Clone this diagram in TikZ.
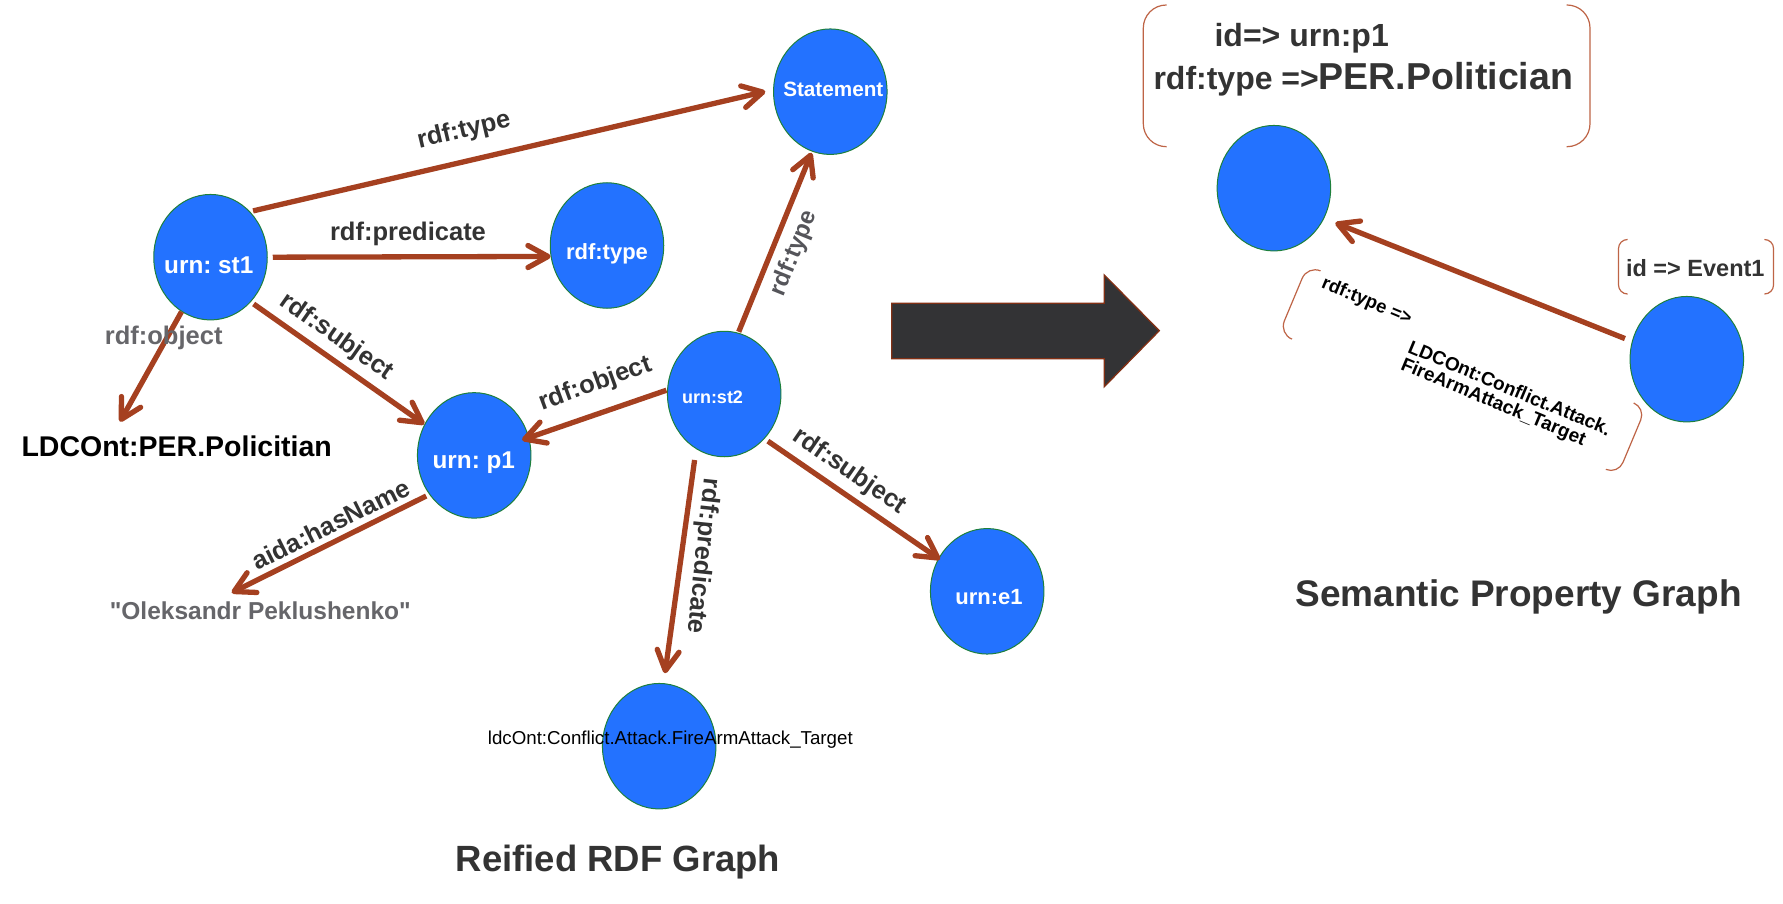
\documentclass[tikz,border=0pt]{standalone}
\usepackage{fontspec}
\setmainfont{Liberation Sans}
\newfontfamily\plainquotes{Liberation Sans}
\usetikzlibrary{arrows.meta,shapes.geometric}
\definecolor{entblue}{RGB}{35,114,255}
\definecolor{entborder}{RGB}{30,128,60}
\definecolor{relred}{RGB}{165,64,32}
\definecolor{darktext}{RGB}{51,51,51}
\definecolor{graytext}{RGB}{102,102,106}
\definecolor{midgray}{RGB}{85,85,90}
\definecolor{bigarrowfill}{RGB}{51,51,53}
\definecolor{bigarrowedge}{RGB}{130,48,20}
\definecolor{brk}{RGB}{190,100,70}
\newcommand{\pxs}[1]{\fontsize{#1}{#1}\selectfont}
\frenchspacing
\begin{document}
\frenchspacing
\begin{tikzpicture}[x=1pt,y=-1pt,
  ent/.style={ellipse, draw=entborder, line width=1pt, fill=entblue,
    minimum width=113.5pt, minimum height=125.5pt, inner sep=0pt},
  rel/.style={draw=relred, line width=5.3pt,
    -{Straight Barb[length=20pt,width=22pt,round]}},
  lbl/.style={text=darktext, font=\bfseries\pxs{25.5}, inner sep=0pt},
  ntext/.style={text=white, inner sep=0pt},
  bracket/.style={draw=brk, line width=1.2pt},
  rtext/.style={rotate=-22.7, inner sep=0pt, text=black, font=\bfseries\pxs{19}},
  bigarr/.style={fill=bigarrowfill, draw=bigarrowedge, line width=1.3pt}]
\useasboundingbox (0,0) rectangle (1783,904);
\fill[white] (0,0) rectangle (1783,904);

% entities
\node[ent] (st1) at (210.5,257.2) {};
\node[ent] (stmt) at (830.3,91.7) {};
\node[ent] (rdft) at (607,245.5) {};
\node[ent] (p1) at (474.2,455.4) {};
\node[ent] (st2) at (724.2,394) {};
\node[ent] (e1) at (987.2,591.3) {};
\node[ent] (bot) at (659.2,746.2) {};
\node[ent] (pn) at (1273.9,188.2) {};
\node[ent] (ev) at (1686.8,359.2) {};

% free ends
\coordinate (ldctip) at (120,421.7);
\coordinate (nametip) at (231.7,592.7);

% connectors
\draw[rel, shorten <=3pt, shorten >=8pt] (st1.49) -- (stmt.178.5);
\draw[rel, shorten <=5pt] (st1.0.5) -- (rdft.191);
\draw[rel, shorten <=3.4pt] (st1.-48) -- (p1.148.3);
\draw[rel] (st1.-118) -- (ldctip);
\draw[rel, shorten <=1pt, shorten >=1.3pt] (st2.77) -- (stmt.-107);
\draw[rel, shorten <=0.7pt, shorten >=-7.4pt] (st2.176) -- (p1.18);
\draw[rel, shorten <=4pt, shorten >=-2pt] (st2.-48.3) -- (e1.146.4);
\draw[rel, shorten <=11pt, shorten >=10pt] (st2.-117.5) -- (bot.86);
\draw[rel, shorten <=3.4pt] (p1.-139.5) -- (nametip);
\draw[rel, shorten <=7.5pt, shorten >=12pt] (ev.162) -- (pn.-31);

% entity texts
\node[ntext, font=\bfseries\pxs{24.3}] (st1t) at ([shift={(-1.7,7.6)}]st1.center) {urn: st1};
\node[ntext, font=\bfseries\pxs{20.7}] (stmtt) at ([shift={(3,-2.5)}]stmt.center) {Statement};
\node[ntext, font=\bfseries\pxs{22}] (rdftt) at ([shift={(0,7.9)}]rdft.center) {rdf:type};
\node[ntext, font=\bfseries\pxs{24.3}] (p1t) at ([shift={(-0.4,7.2)}]p1.center) {urn: p1};
\node[ntext, font=\bfseries\pxs{18}] (st2t) at ([shift={(-11.7,3.3)}]st2.center) {urn:st2};
\node[ntext, font=\bfseries\pxs{22}] (e1t) at ([shift={(1.8,6.2)}]e1.center) {urn:e1};
\node[inner sep=0pt, text=black, font=\pxs{18.7}] (bott) at ([shift={(11.1,-6.2)}]bot.center) {ldcOnt:Conflict.Attack.FireArmAttack\_Target};

% edge labels
\node[lbl, rotate=13.2] (l1) at (464,131) {rdf:type};
\node[lbl] (l2) at (408,234) {rdf:predicate};
\node[lbl, rotate=-35] (l3) at (336.5,337) {rdf:subject};
\node[lbl, text=graytext] (l4) at (163.7,338.3) {rdf:object};
\node[lbl, text=midgray, font=\bfseries\pxs{24}, rotate=68] (l5) at (794.2,253.3) {rdf:type};
\node[lbl, rotate=20] (l6) at (595.6,384.2) {rdf:object};
\node[lbl, rotate=-34.5] (l7) at (849.2,471.7) {rdf:subject};
\node[lbl, rotate=-96] (l8) at (702.5,556) {rdf:predicate};
\node[lbl, rotate=26.4] (l9) at (330.7,524) {aida:hasName};

% literal texts
\node[inner sep=0pt, text=black, font=\bfseries\pxs{28.5}] (ldc) at (176.7,446) {LDCOnt:PER.Policitian};
\node[inner sep=0pt, text=graytext, font=\plainquotes\bfseries\pxs{24.5}] (name) at (260.3,610.5) {"Oleksandr Peklushenko"};

% titles
\node[inner sep=0pt, text=darktext, font=\bfseries\pxs{36.5}] (title1) at (618,862.5) {Reified RDF Graph};
\node[inner sep=0pt, text=darktext, font=\bfseries\pxs{37}] (title2) at (1518.6,597) {Semantic Property Graph};

% big transformation arrow
\draw[bigarr] (891.7,303.3) -- (1104.3,303.3) -- (1104.3,275) -- (1159.3,330.7)
  -- (1104.3,386.7) -- (1104.3,358.7) -- (891.7,358.7) -- cycle;

% property box of person node
\draw[bracket, rounded corners=23pt] (1166.7,5) -- (1143.3,5) -- (1143.3,146.7) -- (1166.7,146.7);
\draw[bracket, rounded corners=23pt] (1566.7,5) -- (1590,5) -- (1590,146.7) -- (1566.7,146.7);
\node[inner sep=0pt, text=darktext, font=\bfseries\pxs{32}] (idp) at (1301.7,38.3) {id=> urn:p1};
\node[inner sep=0pt, anchor=base west, text=darktext, font=\bfseries] (typ) at (1153.3,89.3)
  {{\pxs{32}rdf:type =>}{\pxs{37.5}PER.Politician}};

% property box of event node
\draw[bracket, rounded corners=9pt] (1627,239.5) -- (1618.5,239.5) -- (1618.5,294) -- (1627,294);
\draw[bracket, rounded corners=9pt] (1765,239.5) -- (1773.5,239.5) -- (1773.5,294) -- (1765,294);
\node[inner sep=0pt, text=darktext, font=\bfseries\pxs{23.5}] (evid) at (1695.3,267.7) {id => Event1};

% rotated edge property box
\begin{scope}[shift={(1463,370.6)}, rotate=-22.7]
  \draw[bracket, rounded corners=14pt] (-170,-37) -- (-184,-37) -- (-184,37) -- (-170,37);
  \draw[bracket, rounded corners=13pt] (170,-36) -- (183,-36) -- (183,36) -- (170,36);
  \node[rtext, font=\bfseries\pxs{18.5}, anchor=base west] (rt1) at (-163.5,-21.6) {rdf:type =>};
  \node[rtext, anchor=base west] (rt2) at (-59,4.6) {LDCOnt:Conflict.Attack.};
  \node[rtext, anchor=base west] (rt3) at (-59,23) {FireArmAttack\_Target};
\end{scope}
\end{tikzpicture}
\end{document}
